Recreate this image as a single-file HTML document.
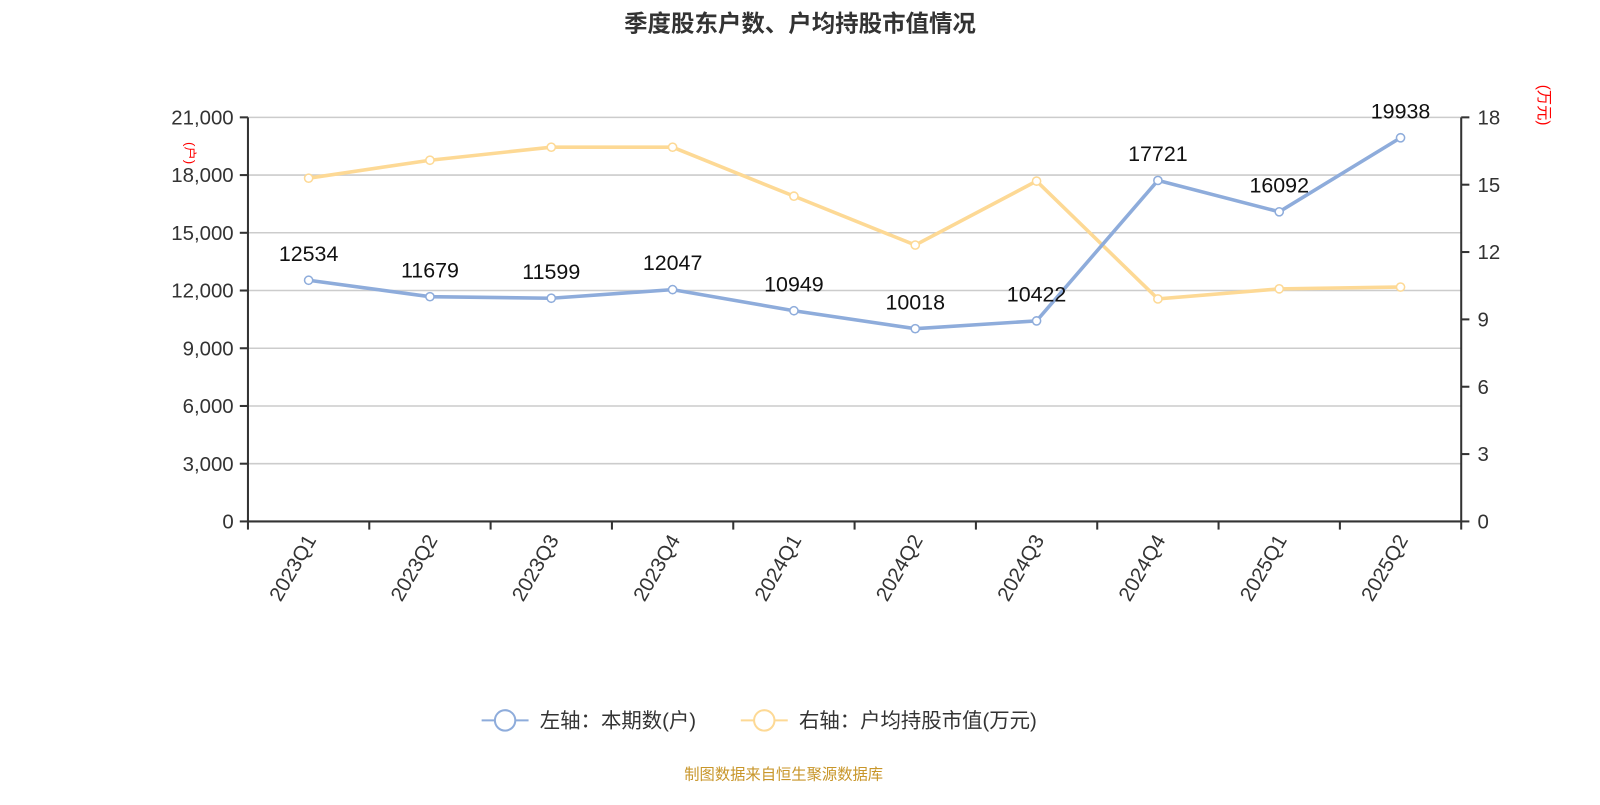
<!DOCTYPE html>
<html><head><meta charset="utf-8"><style>
body{margin:0;background:#fff;width:1600px;height:800px;overflow:hidden;font-family:"Liberation Sans","Noto Sans CJK SC",sans-serif}
</style></head><body>
<svg id="chart" width="1600" height="800" xmlns="http://www.w3.org/2000/svg" font-family="Liberation Sans, Noto Sans CJK SC, sans-serif">
<g transform="scale(1.0204)">
<text x="784" y="31" text-anchor="middle" font-size="23" font-weight="bold" fill="#333">季度股东户数、户均持股市值情况</text>
<g id="grid"></g><g id="axes"></g><g id="series"></g>
<text transform="translate(182,150) rotate(90)" text-anchor="middle" font-size="13" fill="red">(户)</text>
<text transform="translate(1508,103) rotate(90)" text-anchor="middle" font-size="15" fill="red">(万元)</text>
<g>
<line x1="472" y1="706" x2="518" y2="706" stroke="#8eacdb" stroke-width="2"/><circle cx="495" cy="706" r="10" fill="#fff" stroke="#8eacdb" stroke-width="2"/>
<text x="529" y="713" font-size="20" fill="#333">左轴：本期数(户)</text></g>
<g>
<line x1="726" y1="706" x2="772" y2="706" stroke="#fdd995" stroke-width="2"/><circle cx="749" cy="706" r="10" fill="#fff" stroke="#fdd995" stroke-width="2"/>
<text x="783" y="713" font-size="20" fill="#333">右轴：户均持股市值(万元)</text></g>
<text x="768" y="764" text-anchor="middle" font-size="15" fill="#c8962a">制图数据来自恒生聚源数据库</text>
</g>
</svg>
<script>
const categories=["2023Q1","2023Q2","2023Q3","2023Q4","2024Q1","2024Q2","2024Q3","2024Q4","2025Q1","2025Q2"];
const holders=[12534,11679,11599,12047,10949,10018,10422,17721,16092,19938];
const avgValue=[15.29,16.09,16.67,16.67,14.49,12.31,15.16,9.91,10.36,10.44];
const leftTicks=[0,3000,6000,9000,12000,15000,18000,21000];
const rightTicks=[0,3,6,9,12,15,18];
const X0=243,X1=1432,Y0=511,Y1=115;
const xs=i=>X0+(i+0.5)*(X1-X0)/categories.length;
const yl=v=>Y0-(v/21000)*(Y0-Y1);
const yr=v=>Y0-(v/18)*(Y0-Y1);
const NS="http://www.w3.org/2000/svg";
function mk(p,t,a){const e=document.createElementNS(NS,t);for(const k in a)e.setAttribute(k,a[k]);p.appendChild(e);return e;}
const grid=document.getElementById('grid'),axes=document.getElementById('axes'),ser=document.getElementById('series');
leftTicks.forEach(v=>{const y=yl(v);
 if(v>0){const g=mk(grid,'line',{x1:X0,x2:X1,y1:y,y2:y,stroke:'#ccc','stroke-width':1.5});
 
 }
 mk(axes,'line',{x1:X0-8,x2:X0,y1:y,y2:y,stroke:'#333','stroke-width':2});
 const t=mk(axes,'text',{x:X0-14,y:y+7,'text-anchor':'end','font-size':20,fill:'#333'});t.textContent=v.toLocaleString('en-US');
 
 });
rightTicks.forEach(v=>{const y=yr(v);
 mk(axes,'line',{x1:X1,x2:X1+8,y1:y,y2:y,stroke:'#333','stroke-width':2});
 const t=mk(axes,'text',{x:X1+16,y:y+7,'font-size':20,fill:'#333'});t.textContent=v;
 
 });
mk(axes,'line',{x1:X0,x2:X0,y1:Y1,y2:Y0,stroke:'#333','stroke-width':2});
mk(axes,'line',{x1:X1,x2:X1,y1:Y1,y2:Y0,stroke:'#333','stroke-width':2});
mk(axes,'line',{x1:X0,x2:X1,y1:Y0,y2:Y0,stroke:'#333','stroke-width':2});
for(let i=0;i<=categories.length;i++){const x=X0+i*(X1-X0)/categories.length;mk(axes,'line',{x1:x,x2:x,y1:Y0,y2:Y0+8,stroke:'#333','stroke-width':2});}
categories.forEach((c,i)=>{const x=xs(i);
 const t=mk(axes,'text',{transform:`translate(${x+8},${Y0+18}) rotate(-60)`,'text-anchor':'end','font-size':20,fill:'#333'});t.textContent=c;
 
 });
function line(vals,yf,color,name,labels){
 const p=mk(ser,'polyline',{points:vals.map((v,i)=>xs(i)+','+yf(v)).join(' '),fill:'none',stroke:color,'stroke-width':3.5});
 
 
 vals.forEach((v,i)=>{const c=mk(ser,'circle',{cx:xs(i),cy:yf(v),r:4,fill:'#fff',stroke:color,'stroke-width':1.5});
  
  
  if(labels){const t=mk(ser,'text',{x:xs(i),y:yf(v)-19,'text-anchor':'middle','font-size':21,fill:'#111'});t.textContent=v;
  
  }});}
line(avgValue,yr,'#fdd995','avg-value',false);
line(holders,yl,'#8eacdb','holders',true);
</script>
</body></html>
